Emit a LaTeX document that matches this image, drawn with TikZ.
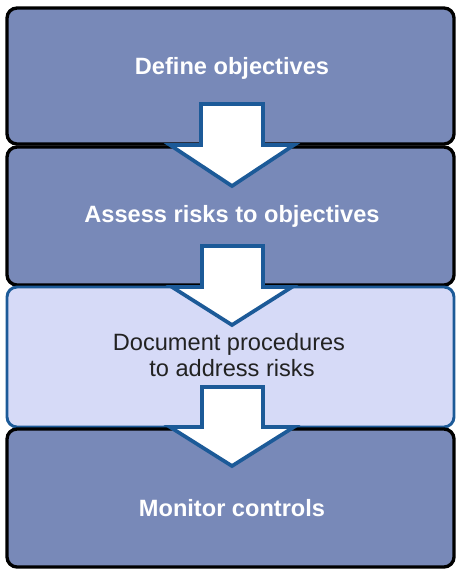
\documentclass[tikz,border=0pt]{standalone}
\usepackage{fontspec}
\setmainfont{Liberation Sans}
\definecolor{boxfill}{HTML}{7889B8}
\definecolor{lightfill}{HTML}{D6DAF7}
\definecolor{arrowblue}{HTML}{1C5A98}
\definecolor{darktext}{HTML}{222222}
\tikzset{
  stepbox/.style={draw=black, line width=2.5pt, fill=boxfill, rounded corners=7.5pt},
  lightbox/.style={draw=arrowblue, line width=2.2pt, fill=lightfill, rounded corners=7.5pt},
  boldlabel/.style={anchor=base, text=white, font=\fontsize{17.7pt}{20pt}\selectfont\bfseries, inner sep=0pt},
  plainlabel/.style={anchor=base, text=darktext, font=\fontsize{17.7pt}{19.5pt}\selectfont, inner sep=0pt, align=center},
  blockarrow/.style={draw=arrowblue, line width=2.8pt, fill=white, miter limit=10},
}
\begin{document}
\begin{tikzpicture}[x=0.75pt,y=-0.75pt]
\useasboundingbox (0,0) rectangle (456,571);
% boxes
\path[stepbox] (7,8) rectangle (454,144);
\node[coordinate] (b1) at (230.5,76) {};
\path[stepbox] (7,147) rectangle (454,285);
\node[coordinate] (b2) at (230.5,216) {};
\path[lightbox] (7,287) rectangle (454,427);
\node[coordinate] (b3) at (230.5,357) {};
\path[stepbox] (7,429) rectangle (454,567);
\node[coordinate] (b4) at (230.5,498) {};
% texts
\node[boldlabel] (t1) at (232,74) {Define objectives};
\node[boldlabel] (t2) at (232,222) {Assess risks to objectives};
\node[plainlabel, anchor=base] (t3a) at (229,350) {Document procedures};
\node[plainlabel, anchor=base] (t3b) at (232,376) {to address risks};
\node[boldlabel] (t4) at (232,516) {Monitor controls};
% block arrows
\draw[blockarrow] (201,104) -- (263,104) -- (263,145) -- (294,145) -- (232,186) -- (170,145) -- (201,145) -- cycle;
\draw[blockarrow] (202,246) -- (263,246) -- (263,287) -- (292,287) -- (232,325) -- (172,287) -- (202,287) -- cycle;
\draw[blockarrow] (202,387) -- (263,387) -- (263,427) -- (294,427) -- (232,466) -- (170,427) -- (202,427) -- cycle;
\end{tikzpicture}
\end{document}
